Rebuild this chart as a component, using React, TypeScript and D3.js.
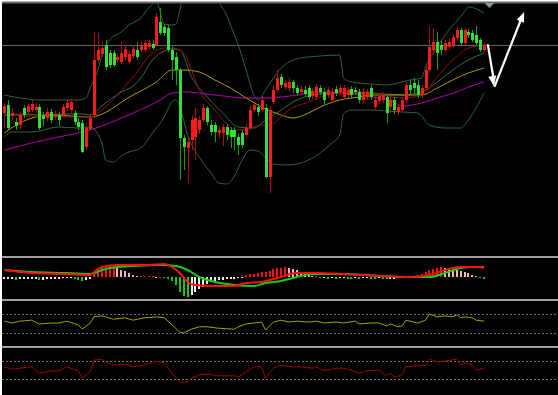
import React from 'react';
import * as d3 from 'd3';

// price in points above the chart floor, one entry per bar
const open = [143, 151, 140, 134, 131, 148, 144, 146, 146, 149, 140, 138, 144, 139, 141, 141, 148, 146, 143, 134,
  133, 109, 127, 141, 196, 202, 211, 203, 203, 196, 194, 199, 194, 200, 206, 206, 206, 209, 212, 211,
  234, 229, 228, 206, 199, 186, 118, 108, 116, 119, 126, 136, 148, 131, 131, 123, 123, 129, 126, 126,
  119, 123, 121, 128, 146, 149, 146, 148, 79, 154, 166, 179, 169, 168, 174, 168, 164, 166, 168, 160,
  159, 168, 164, 161, 156, 167, 164, 159, 161, 167, 166, 164, 156, 159, 168, 149, 155, 156, 159, 149,
  156, 144, 146, 156, 171, 173, 171, 161, 168, 186, 206, 214, 211, 206, 209, 211, 218, 226, 213, 224,
  223, 221, 216, 206];
const close = [150, 128, 143, 130, 141, 141, 150, 152, 149, 128, 137, 144, 136, 142, 136, 149, 153, 154, 134, 129,
  104, 128, 138, 196, 206, 208, 189, 191, 191, 199, 203, 207, 202, 207, 199, 210, 213, 213, 208, 239,
  223, 223, 206, 196, 186, 118, 109, 114, 136, 138, 136, 148, 134, 124, 124, 126, 129, 121, 119, 119,
  111, 111, 128, 146, 151, 144, 156, 79, 146, 166, 178, 171, 173, 174, 168, 163, 167, 162, 159, 165,
  169, 164, 156, 166, 164, 163, 168, 168, 166, 161, 164, 156, 164, 164, 159, 156, 160, 161, 143, 156,
  146, 149, 156, 171, 166, 168, 161, 168, 186, 209, 214, 203, 206, 213, 214, 219, 226, 213, 226, 221,
  216, 213, 206, 211];
const high = [153, 156, 148, 138, 144, 151, 153, 156, 153, 152, 144, 148, 147, 145, 144, 152, 156, 157, 146, 138,
  136, 132, 142, 223, 223, 214, 216, 206, 206, 202, 214, 211, 205, 211, 214, 214, 216, 216, 216, 243,
  248, 232, 231, 211, 204, 188, 121, 118, 141, 148, 140, 152, 150, 136, 134, 130, 132, 132, 129, 129,
  123, 126, 132, 150, 154, 152, 160, 152, 150, 171, 186, 182, 176, 178, 176, 171, 170, 170, 171, 168,
  172, 171, 168, 169, 168, 170, 171, 171, 169, 170, 169, 167, 168, 167, 171, 160, 163, 164, 162, 159,
  159, 152, 159, 174, 176, 178, 176, 171, 190, 229, 228, 224, 216, 216, 218, 222, 229, 228, 228, 227,
  226, 230, 218, 213];
const low = [128, 126, 136, 126, 127, 138, 141, 144, 143, 126, 130, 135, 133, 136, 130, 138, 145, 143, 131, 126,
  103, 106, 125, 138, 194, 199, 186, 188, 189, 193, 192, 196, 192, 198, 196, 204, 204, 206, 206, 209,
  221, 220, 204, 176, 171, 76, 86, 73, 106, 96, 122, 134, 131, 121, 114, 118, 110, 116, 108, 106,
  101, 108, 118, 126, 144, 140, 144, 78, 63, 152, 164, 168, 166, 164, 163, 160, 161, 159, 156, 157,
  156, 161, 152, 158, 153, 160, 161, 156, 158, 158, 161, 153, 153, 156, 156, 146, 152, 153, 133, 144,
  142, 141, 144, 153, 160, 162, 158, 158, 166, 184, 201, 186, 201, 204, 206, 209, 216, 211, 211, 218,
  214, 210, 204, 204];

// overlays: [bar, value]
const bbUpper: [number, number][] = [[0, 161], [4, 158], [9, 156], [14, 156], [19, 156], [21, 158], [22, 168], [24, 186],
  [25, 201], [27, 216], [30, 224], [32, 231], [35, 238], [37, 248], [39, 254], [40, 244], [41, 232], [43, 231],
  [44, 232], [45, 246], [46, 262], [48, 280], [51, 290], [53, 275], [55, 254], [57, 241], [58, 231], [60, 211],
  [62, 186], [64, 161], [65, 156], [67, 166], [69, 178], [71, 188], [73, 194], [76, 198], [81, 200], [86, 201],
  [87, 178], [89, 174], [94, 172], [98, 171], [101, 173], [104, 176], [107, 178], [108, 189], [111, 209],
  [114, 226], [118, 244], [119, 249], [123, 243]];
const bbMiddle: [number, number][] = [[0, 141], [5, 142], [10, 141], [15, 142], [20, 142], [22, 141], [25, 150], [27, 156],
  [30, 164], [33, 170], [35, 178], [38, 196], [41, 205], [43, 207], [45, 206], [48, 179], [52, 159], [56, 143],
  [60, 129], [64, 128], [67, 136], [71, 146], [75, 156], [79, 161], [86, 163], [93, 163], [102, 161], [107, 164],
  [111, 174], [115, 186], [119, 196], [123, 203]];
const bbLower: [number, number][] = [[0, 119], [2, 124], [7, 124], [14, 129], [19, 128], [22, 129], [25, 113], [26, 96],
  [28, 94], [30, 100], [32, 104], [35, 108], [38, 123], [41, 139], [43, 154], [44, 156], [45, 149], [47, 121],
  [50, 99], [53, 83], [55, 73], [57, 72], [59, 80], [61, 96], [63, 106], [65, 105], [67, 98], [69, 92], [72, 91],
  [75, 92], [78, 96], [81, 103], [84, 113], [86, 121], [87, 142], [89, 146], [94, 146], [98, 145], [102, 144],
  [106, 143], [109, 131], [113, 128], [117, 128], [119, 136], [123, 163]];
const maRed: [number, number][] = [[0, 141], [7, 140], [14, 139], [22, 139], [25, 146], [33, 179], [38, 203], [41, 208],
  [43, 208], [46, 203], [48, 186], [50, 166], [54, 146], [58, 129], [60, 126], [63, 128], [66, 131], [68, 131],
  [71, 139], [73, 146], [78, 154], [81, 159], [86, 163], [93, 164], [102, 158], [107, 161], [111, 179],
  [115, 196], [119, 208], [123, 211]];
const maYellow: [number, number][] = [[0, 123], [4, 133], [12, 141], [22, 139], [33, 161], [39, 174], [43, 186], [46, 186],
  [50, 184], [54, 176], [58, 168], [62, 158], [66, 149], [71, 141], [74, 138], [78, 143], [81, 149], [86, 156],
  [91, 159], [94, 161], [102, 161], [107, 161], [111, 168], [116, 178], [119, 183], [123, 188]];
const maMagenta: [number, number][] = [[0, 106], [7, 113], [14, 119], [22, 126], [27, 133], [33, 143], [40, 156], [43, 163],
  [46, 164], [54, 161], [62, 158], [67, 158], [71, 159], [79, 163], [85, 164], [94, 159], [99, 156], [102, 150],
  [107, 153], [111, 158], [116, 164], [119, 169], [123, 174]];

const levelLine = 211;
const arrowPath: [number, number][] = [[124, 211], [125.5, 170], [133.3, 244]];

// macd panel
const macdHist = [-2, -2, -2, -3, -2, -2, -2, -2, -2, -3, -3, -2, -2, -2, -2, -1, -1, -1, -2, -3, -4, -3, -2,
  3, 7, 9, 11, 11, 11, 9, 7, 6, 4, 2, 1, 1, 1, 1, 1, 0.5, 0.5, -0.5,
  -2, -4, -8, -15, -19, -20, -18, -15, -12, -10, -7, -5, -4, -3, -3, -2, -2, -2, -1, -1,
  2, 3, 3, 4, 5, 5, 6, 8, 9, 9, 10, 9, 8, 7, 5, 3, 2, 1, 1,
  -1, -1, -1.5, -1, -1.5, -1, -1, -1.5, -2, -1, -1.5, -1, -1, -1.5, -2, -1, -1.5, -2, -2, -1.5, -1, -0.5, 0.5,
  1, 1.5, 2, 3, 5, 7, 8, 9, 10, 9, 8, 7.5, 7, 6, 5, 4, 2, 1, -1, -2];
const macdFast: [number, number][] = [[0, 7], [7, 4], [16, 3], [22, 2], [23, 5], [25, 10], [29, 12], [37, 12], [41, 13],
  [43, 10], [45, 4], [47, -5], [49, -8], [54, -9], [59, -9], [62, -6], [66, -5], [68, -3], [71, 0], [75, 4],
  [79, 4], [87, 3], [96, 1], [104, 0], [109, 2], [113, 7], [117, 10], [122, 10], [123, 9]];
const macdSlow: [number, number][] = [[0, 7], [7, 5], [16, 4], [22, 3], [25, 7], [29, 10], [33, 11], [40, 12], [44, 11],
  [47, 7], [50, 0], [54, -5], [59, -8], [64, -9], [67, -6], [71, -4], [75, 0], [79, 3], [87, 3], [96, 1],
  [102, 0], [109, 0], [113, 4], [117, 9], [120, 10], [123, 10]];

// oscillators, 0..100
const oscYellow: [number, number][] = [[0, 55], [2, 51], [4, 55], [7, 57], [9, 49], [12, 51], [14, 51], [16, 55], [19, 47],
  [20, 38], [22, 51], [23, 64], [25, 66], [26, 64], [28, 59], [31, 62], [33, 57], [36, 62], [39, 64], [41, 62],
  [42, 55], [43, 47], [45, 32], [46, 30], [48, 38], [50, 43], [52, 43], [55, 40], [59, 38], [60, 43], [62, 49],
  [64, 51], [66, 53], [67, 36], [69, 53], [71, 57], [73, 53], [75, 55], [78, 53], [80, 55], [82, 51], [85, 53],
  [87, 51], [90, 55], [91, 49], [94, 51], [96, 51], [98, 45], [99, 49], [101, 43], [102, 45], [103, 57], [104, 55],
  [106, 51], [108, 57], [109, 70], [111, 64], [113, 66], [115, 64], [116, 68], [117, 62], [118, 64], [120, 62],
  [121, 57], [123, 55]];
const oscRed: [number, number][] = [[0, 57], [2, 52], [4, 54], [7, 57], [9, 43], [12, 48], [14, 48], [16, 57], [19, 48],
  [20, 32], [22, 46], [23, 72], [25, 74], [26, 68], [28, 61], [31, 63], [33, 57], [36, 61], [38, 66], [39, 70],
  [41, 66], [42, 54], [43, 43], [45, 23], [47, 23], [48, 32], [50, 39], [52, 41], [55, 37], [59, 37], [60, 34],
  [62, 46], [64, 57], [66, 57], [67, 32], [69, 54], [71, 61], [74, 57], [76, 57], [79, 54], [80, 57], [82, 48],
  [85, 54], [87, 54], [89, 50], [91, 43], [93, 48], [96, 50], [98, 37], [99, 43], [100, 34], [102, 39], [103, 59],
  [104, 57], [106, 61], [108, 59], [109, 74], [111, 68], [113, 70], [116, 74], [117, 61], [118, 66], [120, 61],
  [121, 50], [123, 54]];
const oscLevels = [70, 30];

export default function App() {
  const x = d3.scaleLinear().domain([0, 123]).range([4.3, 484]);
  const yMain = d3.scaleLinear().domain([0, 253]).range([256, 3]);
  const yMacd = d3.scaleLinear().domain([-19, 18]).range([296, 259]);
  const yOsc1 = d3.scaleLinear().domain([0, 100]).range([347.25, 299.75]);
  const yOsc2 = d3.scaleLinear().domain([0, 100]).range([392.5, 347.5]);

  const mainLine = d3.line<[number, number]>().x(d => x(d[0])).y(d => yMain(d[1])).curve(d3.curveMonotoneX);
  const macdLine = d3.line<[number, number]>().x(d => x(d[0])).y(d => yMacd(d[1])).curve(d3.curveMonotoneX);
  const osc1Line = d3.line<[number, number]>().x(d => x(d[0])).y(d => yOsc1(d[1]));
  const osc2Line = d3.line<[number, number]>().x(d => x(d[0])).y(d => yOsc2(d[1]));

  const histColor = (v: number, i: number) => {
    const prev = i > 0 ? macdHist[i - 1] : v;
    if (v > 0) return v >= prev ? '#ff1010' : '#f4b4b4';
    return v < prev ? '#20c020' : '#f0f0f0';
  };

  const ax = x(arrowPath[0][0]), ay = yMain(arrowPath[0][1]);
  const bx = x(arrowPath[1][0]), by = yMain(arrowPath[1][1]);
  const cx = x(arrowPath[2][0]), cy = yMain(arrowPath[2][1]);
  const head = (fx: number, fy: number, tx: number, ty: number) => {
    const a = Math.atan2(ty - fy, tx - fx);
    const L = 10, w = 4;
    const p1 = [tx - L * Math.cos(a) + w * Math.sin(a), ty - L * Math.sin(a) - w * Math.cos(a)];
    const p2 = [tx - L * Math.cos(a) - w * Math.sin(a), ty - L * Math.sin(a) + w * Math.cos(a)];
    return `${tx},${ty} ${p1[0]},${p1[1]} ${p2[0]},${p2[1]}`;
  };

  return (
    <div style={{ position: 'absolute', left: 0, top: 0 }}>
      <svg width={558} height={395} style={{ display: 'block' }}>
        <defs>
          <clipPath id="mainClip"><rect x={2} y={3} width={556} height={253} /></clipPath>
        </defs>
        <rect x={0} y={0} width={558} height={395} fill="#ffffff" />
        <rect x={2} y={2} width={556} height={393} fill="#000000" />
        <rect x={2} y={1.5} width={556} height={2} fill="#6a6a6a" />

        {/* main panel */}
        <g clipPath="url(#mainClip)">
          <line x1={2} x2={558} y1={Math.round(yMain(levelLine)) + 0.5} y2={Math.round(yMain(levelLine)) + 0.5} stroke="#5e6873" strokeWidth={1} />
          <g fill="none" strokeWidth={1}>
            <path d={mainLine(bbUpper) || ''} stroke="#2a6644" />
            <path d={mainLine(bbLower) || ''} stroke="#2a6644" />
            <path d={mainLine(bbMiddle) || ''} stroke="#2f6f48" />
            <path d={mainLine(maMagenta) || ''} stroke="#b400b4" />
            <path d={mainLine(maYellow) || ''} stroke="#b09a00" />
            <path d={mainLine(maRed) || ''} stroke="#8e1414" />
          </g>
          <g shapeRendering="crispEdges">
            {open.map((o, i) => {
              const c = close[i];
              const up = c >= o;
              const cxp = Math.round(x(i));
              const top = Math.round(yMain(Math.max(o, c)));
              const bot = Math.round(yMain(Math.min(o, c)));
              return (
                <g key={i}>
                  <rect x={cxp} y={Math.round(yMain(high[i]))} width={1} height={Math.max(1, Math.round(yMain(low[i])) - Math.round(yMain(high[i])))} fill={up ? '#a81010' : '#1a9a1a'} />
                  <rect x={cxp - 1} y={top} width={3} height={Math.max(1, bot - top)} fill={up ? '#ff1a1a' : '#33e033'} />
                </g>
              );
            })}
          </g>
          <polygon points={`${x(124.4) - 5},3 ${x(124.4) + 5},3 ${x(124.4)},8`} fill="#8797a8" />
        </g>

        {/* arrows */}
        <g stroke="#ffffff" strokeWidth={2.2} fill="none" strokeLinecap="round">
          <line x1={ax} y1={ay} x2={bx} y2={by - 6} />
          <line x1={bx + 1} y1={by} x2={cx - 3} y2={cy + 7} />
        </g>
        <polygon points={head(ax, ay, bx, by)} fill="#ffffff" />
        <polygon points={head(bx, by, cx, cy)} fill="#ffffff" />

        {/* separators */}
        <rect x={2} y={256} width={556} height={2} fill="#a0a0a0" />
        <rect x={2} y={299} width={556} height={2} fill="#a0a0a0" />
        <rect x={2} y={346} width={556} height={2} fill="#a0a0a0" />

        {/* macd panel */}
        <g shapeRendering="crispEdges">
          {macdHist.map((v, i) => {
            const y0 = yMacd(0), y1 = yMacd(v);
            return <rect key={i} x={Math.round(x(i)) - 1} y={Math.min(y0, y1)} width={2} height={Math.max(1, Math.abs(y1 - y0))} fill={histColor(v, i)} />;
          })}
        </g>
        <path d={macdLine(macdSlow) || ''} fill="none" stroke="#10d010" strokeWidth={2} />
        <path d={macdLine(macdFast) || ''} fill="none" stroke="#ff1010" strokeWidth={2} />

        {/* oscillators */}
        {oscLevels.map(l => (
          <g key={l} stroke="#747474" strokeDasharray="2 2" strokeWidth={1}>
            <line x1={2} x2={558} y1={Math.round(yOsc1(l)) + 0.5} y2={Math.round(yOsc1(l)) + 0.5} />
            <line x1={2} x2={558} y1={Math.round(yOsc2(l)) + 0.5} y2={Math.round(yOsc2(l)) + 0.5} />
          </g>
        ))}
        <path d={osc1Line(oscYellow) || ''} fill="none" stroke="#a8a000" strokeWidth={1} />
        <path d={osc2Line(oscRed) || ''} fill="none" stroke="#a00000" strokeWidth={1} />
      </svg>
    </div>
  );
}
